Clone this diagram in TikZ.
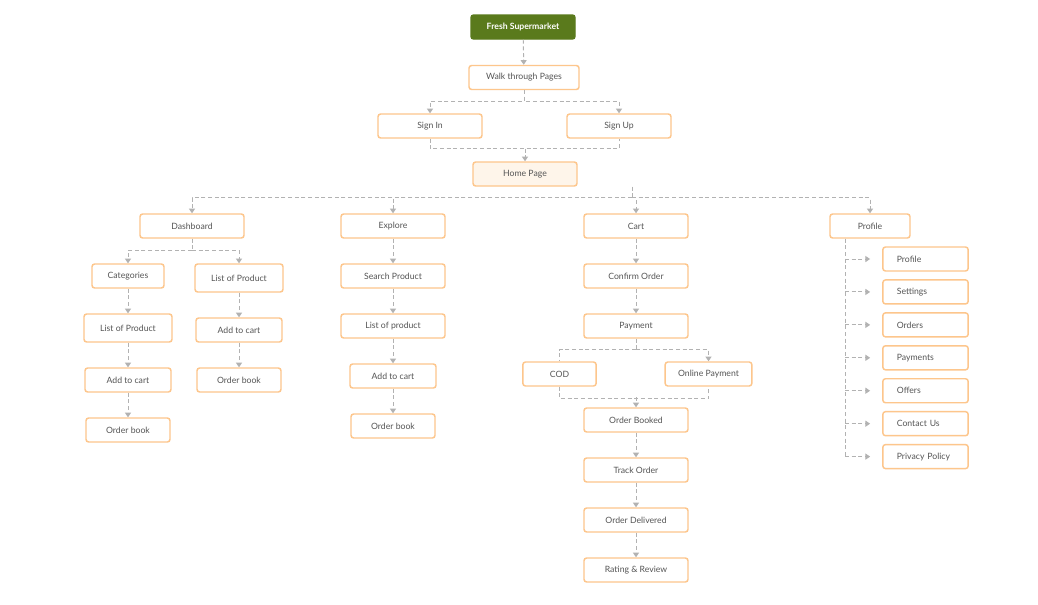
\documentclass[tikz,border=0pt]{standalone}
\usepackage{fontspec}
\setmainfont{Lato}
\usetikzlibrary{arrows.meta,positioning,calc}

\definecolor{boxline}{HTML}{FDC68C}
\definecolor{linkgray}{HTML}{B2B2B2}
\definecolor{txtgray}{HTML}{555555}
\definecolor{rootgreen}{HTML}{5A7A1C}
\definecolor{homefill}{HTML}{FEF5EA}

\begin{document}
\begin{tikzpicture}[
        x=0.75pt, y=-0.75pt,
        node distance=18.4pt,
        >={Triangle[width=4.5pt,length=3.5pt]},
        page/.style={
            draw=boxline,
            line width=1.1pt,
            rounded corners=2pt,
            fill=white,
            align=center,
            minimum width=78pt,
            minimum height=18pt,
            inner sep=1pt,
            text=txtgray,
            font=\fontsize{6.5}{8}\selectfont
        },
        root/.style={
            page,
            draw=rootgreen,
            fill=rootgreen,
            text=white,
            font=\fontsize{6.5}{8}\selectfont\bfseries
        },
        item/.style={
            page,
            align=left,
            minimum width=64pt,
            text width=43pt,
            inner xsep=10.5pt
        },
        linkline/.style={draw=linkgray, line width=0.7pt, dash pattern=on 3pt off 2pt},
        link/.style={->, linkline}
    ]
        \fill[white] (0,0) rectangle (1038,604);
        \useasboundingbox (0,0) rectangle (1038,604);

        % top of the tree
        \node[root] (root) at (523,27) {Fresh Supermarket};
        \node[page, minimum width=82.5pt] (walk) at (524,77.5) {Walk through Pages};
        \node[page] (signin) at (430,126) {Sign In};
        \node[page] (signup) at (619,126) {Sign Up};
        \node[page, fill=homefill] (home) at (525,174) {Home Page};

        % four main sections
        \node[page] (dash) at (192,226) {Dashboard};
        \node[page] (explore) at (393,226) {Explore};
        \node[page] (cart) at (636,226) {Cart};
        \node[page, minimum width=60pt] (profile) at (870,226) {Profile};

        % dashboard
        \node[page, minimum width=54pt] (cat) at (128,276) {Categories};
        \node[page, minimum width=66pt, minimum height=21pt, below=of cat] (listL) {List of Product};
        \node[page, minimum width=64.5pt, below=of listL] (addL) {Add to cart};
        \node[page, minimum width=63pt, below=of addL] (orderL) {Order book};
        \node[page, minimum width=66pt, minimum height=21pt] (listR) at (239,278) {List of Product};
        \node[page, minimum width=64.5pt, below=of listR] (addR) {Add to cart};
        \node[page, minimum width=63pt, below=of addR] (orderR) {Order book};

        % explore
        \node[page, below=of explore] (search) {Search Product};
        \node[page, below=of search] (listE) {List of product};
        \node[page, minimum width=64.5pt, below=of listE] (addE) {Add to cart};
        \node[page, minimum width=63pt, below=of addE] (orderE) {Order book};

        % cart
        \node[page, below=of cart] (confirm) {Confirm Order};
        \node[page, below=of confirm] (pay) {Payment};
        \node[page, minimum width=55pt] (cod) at (559.5,374) {COD};
        \node[page, minimum width=65pt] (online) at (708.5,374) {Online Payment};
        \node[page] (booked) at (636,420) {Order Booked};
        \node[page, below=of booked] (track) {Track Order};
        \node[page, below=of track] (delivered) {Order Delivered};
        \node[page, below=of delivered] (rating) {Rating \& Review};

        % profile
        \node[item] (pp1) at (925.5,259) {Profile};
        \node[item, below=5.6pt of pp1] (pp2) {Settings};
        \node[item, below=5.6pt of pp2] (pp3) {Orders};
        \node[item, below=5.6pt of pp3] (pp4) {Payments};
        \node[item, below=5.6pt of pp4] (pp5) {Offers};
        \node[item, below=5.6pt of pp5] (pp6) {Contact Us};
        \node[item, below=5.6pt of pp6] (pp7) {Privacy Policy};

        % connectors
        \draw[link] (root) -- (walk);
        \draw[link] (walk.south) -- ++(0,11) -| (signin.north);
        \draw[link] (walk.south) -- ++(0,11) -| (signup.north);
        \draw[linkline] (signin.south) -- ++(0,10) -| (signup.south);
        \draw[link] ($(home.north |- signin.south)+(0,10)$) -- (home.north);

        \coordinate (hbus) at ($(home.south -| cart.north)+(-4,11)$);
        \draw[linkline] ($(home.south -| cart.north)+(-4,0)$) -- (hbus);
        \draw[link] (hbus) -| (dash.north);
        \draw[link] (hbus) -| (explore.north);
        \draw[link] (hbus) -| (cart.north);
        \draw[link] (hbus) -| (profile.north);

        \coordinate (dbus) at ($(dash.south)+(0,12)$);
        \draw[linkline] (dash.south) -- (dbus);
        \draw[link] (dbus) -| (cat.north);
        \draw[link] (dbus) -| (listR.north);
        \draw[link] (cat) -- (listL);
        \draw[link] (listL) -- (addL);
        \draw[link] (addL) -- (orderL);
        \draw[link] (listR) -- (addR);
        \draw[link] (addR) -- (orderR);

        \draw[link] (explore) -- (search);
        \draw[link] (search) -- (listE);
        \draw[link] (listE) -- (addE);
        \draw[link] (addE) -- (orderE);

        \draw[link] (cart) -- (confirm);
        \draw[link] (confirm) -- (pay);
        \coordinate (pbus) at ($(pay.south)+(0,11)$);
        \draw[linkline] (pay.south) -- (pbus);
        \draw[linkline] (pbus) -| (cod.north);
        \draw[link] (pbus) -| (online.north);
        \draw[linkline] (cod.south) -- ++(0,12) -| (online.south);
        \draw[link] ($(booked.north)+(0,-10)$) -- (booked.north);
        \draw[link] (booked) -- (track);
        \draw[link] (track) -- (delivered);
        \draw[link] (delivered) -- (rating);

        \coordinate (ptrunk) at ($(profile.south)+(-25,0)$);
        \draw[linkline] (ptrunk) -- (ptrunk |- pp7.west);
        \draw[link, shorten >=9pt] (ptrunk |- pp1.west) -- (pp1.west);
        \draw[link, shorten >=9pt] (ptrunk |- pp2.west) -- (pp2.west);
        \draw[link, shorten >=9pt] (ptrunk |- pp3.west) -- (pp3.west);
        \draw[link, shorten >=9pt] (ptrunk |- pp4.west) -- (pp4.west);
        \draw[link, shorten >=9pt] (ptrunk |- pp5.west) -- (pp5.west);
        \draw[link, shorten >=9pt] (ptrunk |- pp6.west) -- (pp6.west);
        \draw[link, shorten >=9pt] (ptrunk |- pp7.west) -- (pp7.west);
    \end{tikzpicture}
\end{document}
